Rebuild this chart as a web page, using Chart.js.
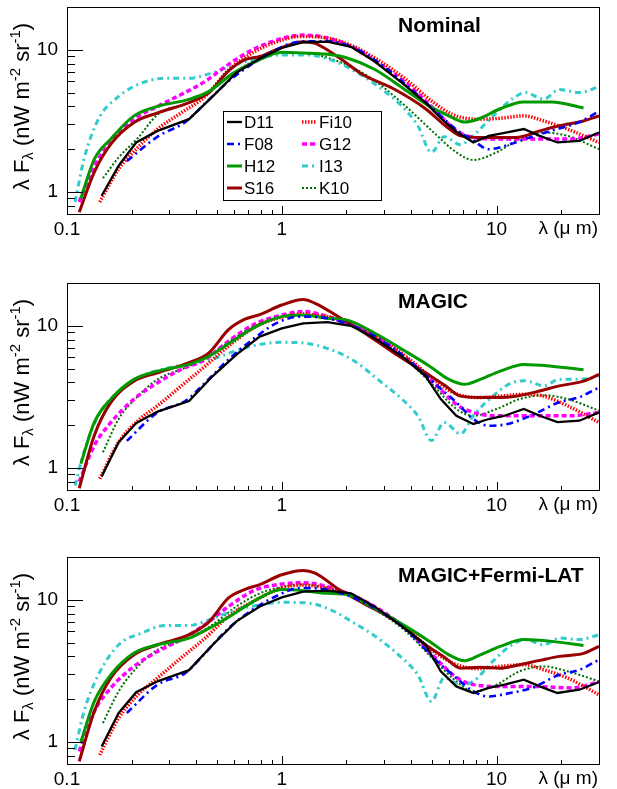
<!DOCTYPE html>
<html><head><meta charset="utf-8">
<script src="https://cdn.jsdelivr.net/npm/chart.js@4.4.0/dist/chart.umd.min.js"></script>
<style>
html,body{margin:0;padding:0;background:#fff;width:617px;height:789px;overflow:hidden;}
.panel{position:absolute;left:0;width:617px;height:239px;}
canvas{display:block;}
</style></head><body>
<div class="panel" style="top:0px"><canvas id="c0" width="617" height="239"></canvas></div>
<div class="panel" style="top:276px"><canvas id="c1" width="617" height="239"></canvas></div>
<div class="panel" style="top:550px"><canvas id="c2" width="617" height="239"></canvas></div>
<script>
// ---------------- data (wavelength in micron, lambda*F in nW m^-2 sr^-1) ----------------
const panelTitles = ['Nominal', 'MAGIC', 'MAGIC+Fermi-LAT'];
const xTickLabels = ['0.1', '1', '10'];
const yTickLabels = ['1', '10'];

const lamD11 = [0.145,0.174,0.21,0.264,0.37,0.477,0.615,0.79,1.0,1.26,1.63,2.1,2.7,3.63,4.67,5.5,6.5,7.8,9.2,10.9,13.4,15.9,19.2,24.3,30];
const D11_nom = [0.94,1.53,2.23,2.69,3.25,4.7,6.9,8.7,10.3,11.3,11.4,10.5,8.3,5.85,4.25,3.3,2.65,2.23,2.48,2.6,2.77,2.48,2.23,2.29,2.62];
const D11_mag = [0.87,1.52,2.07,2.49,2.96,4.43,6.27,8.4,9.6,10.4,10.6,10.0,8.2,6.1,4.43,3.05,2.33,2.04,2.21,2.33,2.6,2.33,2.1,2.15,2.46];
const D11_fer = [0.93,1.6,2.24,2.67,3.2,4.83,7.05,8.98,10.4,11.4,11.6,11.1,8.98,6.5,4.83,3.14,2.46,2.21,2.4,2.53,2.74,2.46,2.21,2.33,2.64];

const lamF08 = [0.19,0.264,0.355,0.44,0.565,0.73,0.94,1.21,1.63,2.18,2.8,3.78,5.1,6.5,7.8,9.2,11.4,14.6,19.6,24.3,30];
const F08_nom = [1.65,2.45,3.1,4.2,6.0,8.0,10.0,11.4,11.5,10.3,8.2,5.7,3.8,2.75,2.3,2.0,2.15,2.45,2.8,3.1,3.7];
const F08_mag = [1.55,2.46,2.96,3.98,5.8,7.98,10.4,11.6,11.3,9.9,8.2,5.95,3.98,2.89,2.21,1.98,2.05,2.35,2.9,3.15,3.68];
const F08_fer = [1.6,2.53,3.05,4.22,6.3,8.5,10.6,12.1,11.8,10.3,8.5,6.2,3.9,2.82,2.27,2.09,2.2,2.4,2.97,3.22,3.79];

const lamH12 = [0.116,0.134,0.16,0.205,0.264,0.37,0.458,0.59,0.76,1.0,1.26,1.63,2.0,2.7,3.78,4.88,6.0,7.1,8.4,10.4,13.4,18.1,25.4];
const H12_nom = [0.9,1.7,2.36,3.43,4.0,4.48,5.1,6.8,8.3,9.6,9.5,9.3,8.8,7.3,5.2,4.0,3.43,3.1,3.3,3.85,4.3,4.3,3.9];
const H12_mag = [1.07,2.09,3.05,4.2,4.8,5.35,6.1,7.8,9.9,11.6,11.9,11.3,11.0,8.9,6.6,5.2,4.2,3.88,4.2,4.8,5.35,5.2,4.9];
const H12_fer = [1.0,1.93,2.97,4.22,4.83,5.38,6.3,7.85,10.0,11.8,11.6,11.1,10.9,8.7,6.5,5.1,4.1,3.72,4.1,4.7,5.25,5.1,4.77];

const lamS16 = [0.114,0.134,0.16,0.205,0.264,0.37,0.458,0.565,0.67,0.79,1.0,1.26,1.43,1.85,2.38,3.33,4.67,5.78,6.8,8.4,10.4,12.3,15.9,19.6,25.4,30];
const S16_nom = [0.72,1.38,2.17,3.08,3.6,4.25,5.0,7.1,8.5,8.97,10.4,11.4,11.1,8.8,6.7,5.3,3.85,2.92,2.48,2.42,2.42,2.42,2.69,2.92,3.16,3.43];
const S16_mag = [0.72,1.69,2.89,4.08,4.67,5.5,6.45,9.4,11.1,12.0,14.0,15.3,14.4,11.5,9.1,6.45,4.67,3.78,3.2,3.13,3.13,3.2,3.48,3.78,4.08,4.55];
const S16_fer = [0.73,1.64,2.82,4.1,4.83,5.68,7.0,10.3,11.8,12.8,15.0,16.1,15.4,11.8,9.5,7.2,4.83,3.9,3.3,3.35,3.3,3.45,3.75,4.0,4.2,4.7];

const lamFi10 = [0.142,0.174,0.214,0.264,0.34,0.44,0.565,0.76,1.0,1.21,1.63,2.18,2.8,3.78,5.1,6.26,8.1,10.4,13.4,16.6,21.4,30];
const Fi10_nom = [0.85,1.45,2.06,2.77,3.6,4.7,7.2,9.85,11.7,12.4,12.1,10.5,8.5,6.2,4.25,3.5,3.25,3.3,3.43,3.16,2.77,2.23];
const Fi10_mag = [0.84,1.52,2.15,2.74,3.77,5.2,7.2,9.9,11.5,12.1,11.6,10.4,8.4,6.1,4.2,3.4,3.13,3.2,3.3,3.2,2.74,2.09];
const Fi10_fer = [0.81,1.47,2.15,2.82,3.9,5.38,7.65,10.0,12.1,12.7,12.1,10.6,8.5,6.3,4.33,3.59,3.28,3.4,3.5,3.22,2.82,2.15];

const lamG12 = [0.114,0.134,0.16,0.205,0.264,0.34,0.44,0.565,0.76,1.0,1.26,1.63,2.18,2.8,3.78,5.1,6.5,7.8,10,14.6,22.3,30];
const G12_nom = [0.85,1.53,2.23,3.25,4.0,4.85,6.0,7.9,10.3,12.0,12.7,12.1,10.3,8.1,5.85,3.85,2.69,2.42,2.36,2.36,2.36,2.56];
const G12_mag = [0.8,1.44,2.09,3.05,3.98,4.93,5.8,7.8,10.4,11.9,12.6,11.6,9.9,8.2,5.95,3.98,2.8,2.46,2.33,2.33,2.33,2.46];
const G12_fer = [0.86,1.64,2.4,3.4,4.33,5.25,6.7,8.98,11.8,12.9,13.2,12.4,10.6,8.7,6.3,4.0,2.85,2.53,2.46,2.46,2.4,2.64];

const lamI13 = [0.109,0.12,0.14,0.174,0.223,0.287,0.37,0.477,0.615,0.79,1.0,1.32,1.69,2.18,2.8,3.63,4.3,4.98,5.7,6.8,7.8,9.6,11.8,13.6,16.6,19.6,24.3,30];
const I13_nom = [0.85,1.7,3.25,4.7,5.85,6.3,6.3,6.9,7.9,8.8,9.2,9.2,8.5,7.1,5.55,4.0,2.92,1.9,2.45,2.15,2.5,3.4,4.5,5.0,4.5,5.25,5.0,5.5];
const I13_mag = [0.75,1.3,2.35,3.45,4.45,5.0,5.4,5.85,6.7,7.4,7.65,7.5,6.8,5.65,4.2,3.05,2.33,1.56,2.09,1.74,2.33,3.2,3.98,4.1,3.78,4.2,4.2,4.43];
const I13_fer = [0.88,1.64,2.97,4.83,5.83,6.6,6.6,7.4,8.5,9.2,9.6,9.5,8.5,6.85,5.38,3.9,2.97,1.93,2.82,2.53,2.67,3.69,4.83,5.25,4.83,5.38,5.25,5.68];

const lamK10 = [0.147,0.174,0.214,0.264,0.37,0.477,0.615,0.79,1.0,1.26,1.63,2.18,2.8,3.78,5.1,6.5,7.8,10,12.8,16.6,21.4,30];
const K10_nom = [1.25,1.75,2.4,3.5,4.25,5.3,7.1,8.7,9.5,9.5,8.8,7.4,5.85,4.0,2.62,1.9,1.68,1.9,2.36,2.62,2.48,2.0];
const K10_mag = [1.29,2.21,3.2,4.2,5.2,6.45,8.4,10.4,11.5,11.9,11.3,9.9,8.0,5.8,3.78,2.6,2.33,2.6,3.05,3.25,3.05,2.53];
const K10_fer = [1.36,2.27,3.4,4.45,5.38,6.7,8.98,11.1,12.3,12.8,12.1,10.3,8.3,6.0,3.79,2.67,2.27,2.53,3.14,3.4,3.14,2.67];

// ---------------- styles ----------------
const FONT = '"Liberation Sans", Arial, Helvetica, sans-serif';
const series = [
  {name:'D11',  lam:lamD11,  vals:[D11_nom,D11_mag,D11_fer],    color:'#000000', width:2.3, dash:[],        tension:0},
  {name:'F08',  lam:lamF08,  vals:[F08_nom,F08_mag,F08_fer],    color:'#0000ff', width:2.6, dash:[7,4,2,4], tension:0.4},
  {name:'H12',  lam:lamH12,  vals:[H12_nom,H12_mag,H12_fer],    color:'#009900', width:3,   dash:[],        tension:0.4},
  {name:'S16',  lam:lamS16,  vals:[S16_nom,S16_mag,S16_fer],    color:'#990000', width:3,   dash:[],        tension:0.4},
  {name:'Fi10', lam:lamFi10, vals:[Fi10_nom,Fi10_mag,Fi10_fer], color:'#ff0000', width:3.5, dash:[1.5,1.5], tension:0.4},
  {name:'G12',  lam:lamG12,  vals:[G12_nom,G12_mag,G12_fer],    color:'#ff00ff', width:3.5, dash:[5,3],     tension:0.4},
  {name:'I13',  lam:lamI13,  vals:[I13_nom,I13_mag,I13_fer],    color:'#33cccc', width:3,   dash:[6,4,2,4], tension:0.4},
  {name:'K10',  lam:lamK10,  vals:[K10_nom,K10_mag,K10_fer],    color:'#006e00', width:2,   dash:[2,2],     tension:0.4}
];

function drawYTitle(ctx, cx, cy) {
  const parts = [['\u03bb F',0],['\u03bb',-1],[' (nW m',0],['-2',1],[' sr',0],['-1',1],[')',0]];
  const fs = 22, small = 15;
  ctx.save();
  ctx.translate(cx, cy);
  ctx.rotate(-Math.PI/2);
  let w = 0;
  for (const [t,s] of parts) { ctx.font = (s ? small : fs) + 'px ' + FONT; w += ctx.measureText(t).width; }
  let x = -w/2;
  ctx.fillStyle = '#000';
  ctx.textBaseline = 'alphabetic';
  ctx.textAlign = 'left';
  for (const [t,s] of parts) {
    ctx.font = (s ? small : fs) + 'px ' + FONT;
    const dy = s === 1 ? -9 : (s === -1 ? 4 : 0);
    ctx.fillText(t, x, dy);
    x += ctx.measureText(t).width;
  }
  ctx.restore();
}

function decor(pi) {
  return {
    id: 'decor' + pi,
    afterDatasetsDraw(chart) {
      const ctx = chart.ctx, a = chart.chartArea;
      const xs = chart.scales.x, ys = chart.scales.y;
      ctx.save();
      ctx.strokeStyle = '#000';
      ctx.lineWidth = 1;
      ctx.beginPath();
      for (const d of [0.1, 1, 10]) {
        for (let m = 1; m <= 9; m++) {
          const v = d * m;
          if (v < 0.1 - 1e-9 || v > 30 + 1e-9) continue;
          const px = Math.round(xs.getPixelForValue(v)) + 0.5;
          const len = m === 1 ? 8 : 4;
          ctx.moveTo(px, a.bottom); ctx.lineTo(px, a.bottom - len);
        }
      }
      for (const d of [0.1, 1, 10]) {
        for (let m = 1; m <= 9; m++) {
          const v = d * m;
          if (v < 0.7 - 1e-9 || v > 20 + 1e-9) continue;
          const py = Math.round(ys.getPixelForValue(v)) + 0.5;
          const len = m === 1 ? 16 : 8;
          ctx.moveTo(a.left, py); ctx.lineTo(a.left + len, py);
        }
      }
      ctx.stroke();
      ctx.strokeRect(Math.round(a.left) + 0.5, Math.round(a.top) + 0.5,
                     Math.round(a.right - a.left), Math.round(a.bottom - a.top));
      ctx.fillStyle = '#000';
      ctx.font = 'bold 21px ' + FONT;
      ctx.textAlign = 'left';
      ctx.textBaseline = 'middle';
      ctx.fillText(panelTitles[pi], 398, a.top + 19);
      ctx.font = '19px ' + FONT;
      ctx.textAlign = 'right';
      ctx.textBaseline = 'top';
      ctx.fillText('\u03bb (\u03bc m)', 598, a.bottom + 5);
      drawYTitle(ctx, 29, (a.top + a.bottom) / 2 - 4);
      if (pi === 0) {
        const bx = 223, by = 111, bw = 158, bh = 89;
        ctx.fillStyle = '#fff';
        ctx.fillRect(bx, by, bw, bh);
        ctx.strokeStyle = '#000';
        ctx.lineWidth = 1;
        ctx.strokeRect(bx + 0.5, by + 0.5, bw, bh);
        ctx.font = '17px ' + FONT;
        ctx.textAlign = 'left';
        ctx.textBaseline = 'middle';
        chart.data.datasets.forEach((ds, i) => {
          const col = i < 4 ? 0 : 1, row = i % 4;
          const lx = col === 0 ? 227 : 302;
          const ly = by + 11 + row * 22;
          ctx.save();
          ctx.strokeStyle = ds.borderColor;
          ctx.lineWidth = ds.borderWidth;
          ctx.setLineDash(ds.borderDash || []);
          ctx.beginPath(); ctx.moveTo(lx, ly); ctx.lineTo(lx + 15, ly); ctx.stroke();
          ctx.restore();
          ctx.fillStyle = '#000';
          ctx.fillText(ds.label, lx + 17, ly + 1);
        });
      }
      ctx.restore();
    }
  };
}

function makeChart(pi) {
  const datasets = series.map(s => ({
    label: s.name,
    data: s.lam.map((x, i) => ({x: x, y: s.vals[pi][i]})),
    borderColor: s.color,
    backgroundColor: s.color,
    borderWidth: s.width,
    borderDash: s.dash,
    tension: s.tension,
    cubicInterpolationMode: s.tension > 0 ? 'monotone' : 'default',
    pointRadius: 0,
    fill: false,
    clip: 0
  }));
  new Chart(document.getElementById('c' + pi), {
    type: 'line',
    data: {datasets: datasets},
    options: {
      responsive: false,
      animation: false,
      devicePixelRatio: 1,
      layout: {padding: {top: 7, right: 18, left: 0, bottom: 0}},
      plugins: {legend: {display: false}, tooltip: {enabled: false}},
      scales: {
        x: {
          type: 'logarithmic', min: 0.1, max: 30,
          afterBuildTicks: s => { s.ticks = xTickLabels.map(t => ({value: parseFloat(t)})); },
          afterFit: s => { s.height = 25; s.paddingLeft = 0; s.paddingRight = 0; },
          ticks: {
            callback: (v) => { const t = xTickLabels.find(l => Math.abs(parseFloat(l) - v) < 1e-9); return t || ''; },
            font: {family: FONT, size: 19}, color: '#000', maxRotation: 0, autoSkip: false, padding: 4
          },
          grid: {display: false, drawTicks: false},
          border: {display: false}
        },
        y: {
          type: 'logarithmic', min: 0.7, max: 20,
          afterBuildTicks: s => { s.ticks = yTickLabels.map(t => ({value: parseFloat(t)})); },
          afterFit: s => { s.width = 67; s.paddingTop = 0; s.paddingBottom = 0; },
          ticks: {
            callback: (v) => { const t = yTickLabels.find(l => Math.abs(parseFloat(l) - v) < 1e-9); return t || ''; },
            font: {family: FONT, size: 19}, color: '#000', autoSkip: false, padding: 9
          },
          grid: {display: false, drawTicks: false},
          border: {display: false}
        }
      }
    },
    plugins: [decor(pi)]
  });
}
[0, 1, 2].forEach(makeChart);
</script>
</body></html>
